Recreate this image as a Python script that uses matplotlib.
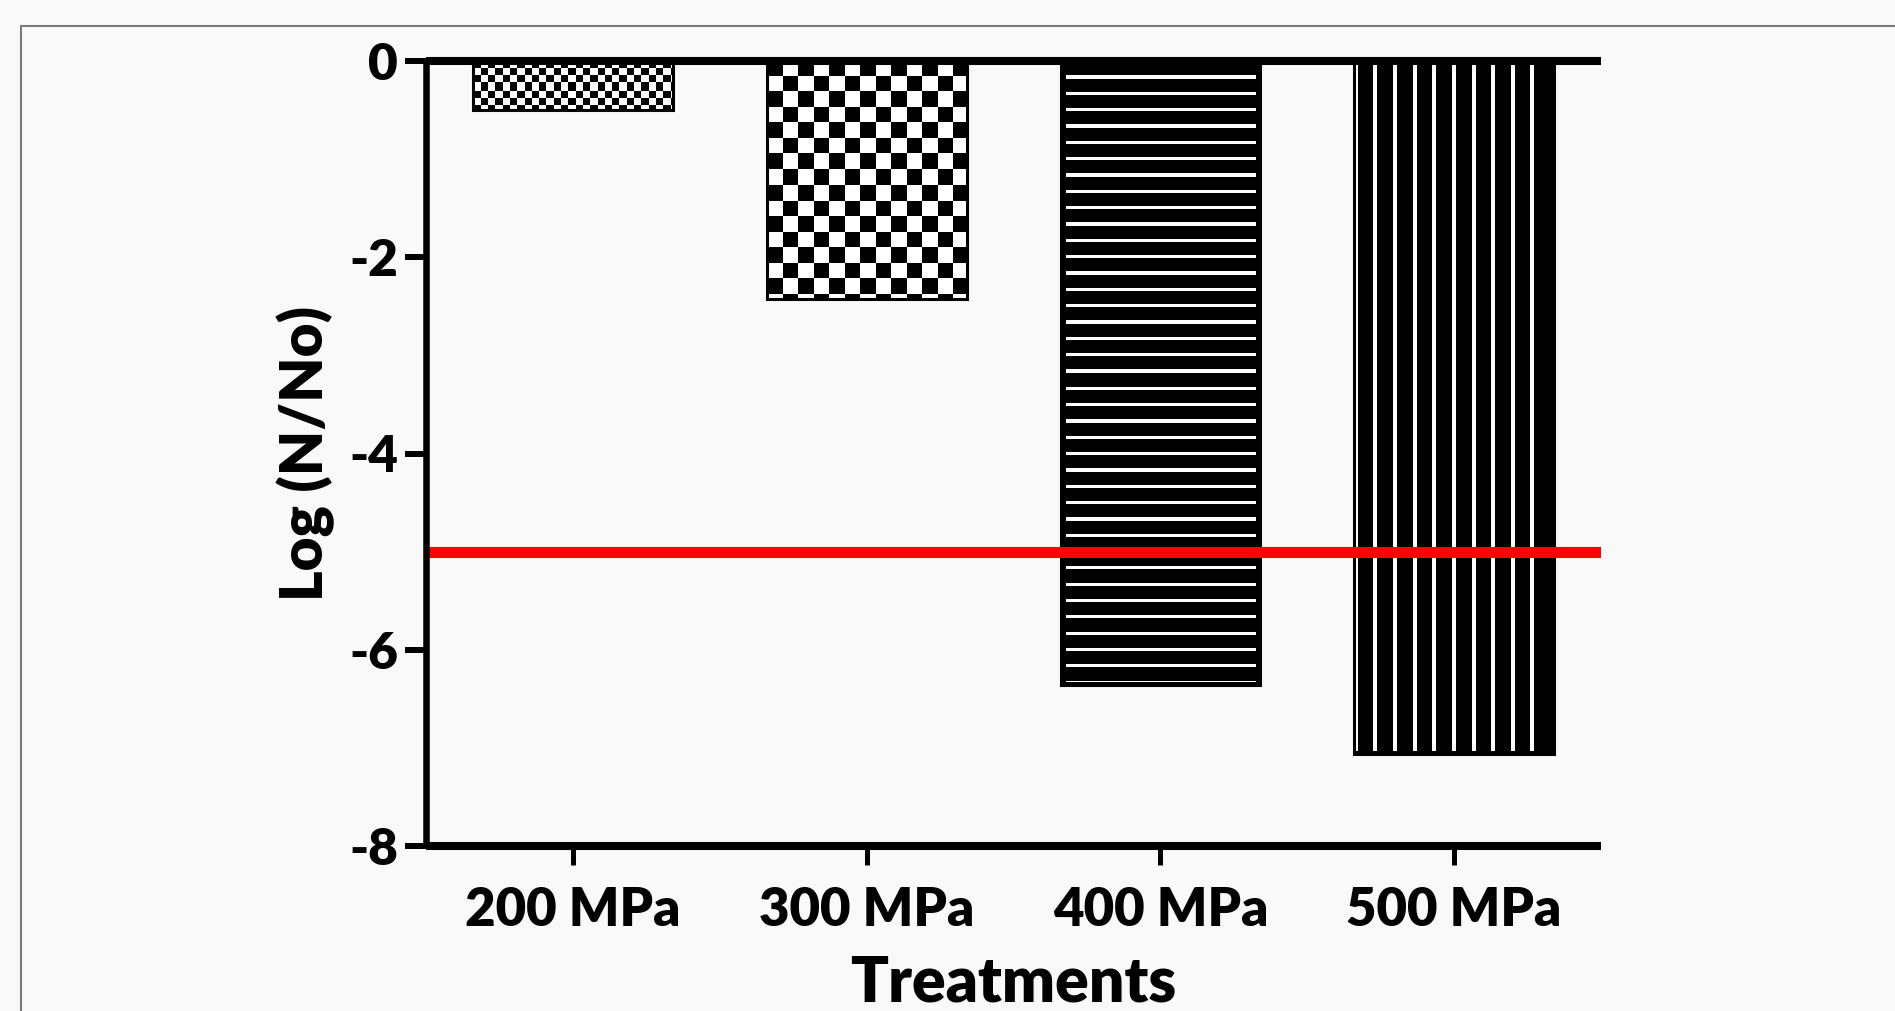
import numpy as np
import matplotlib
matplotlib.use("Agg")
import matplotlib.pyplot as plt
from matplotlib.colors import ListedColormap
from matplotlib.patches import Rectangle

# data
treatments = ["200 MPa", "300 MPa", "400 MPa", "500 MPa"]
log_reduction = [-0.50, -2.43, -6.36, -7.06]
target_line = -5.0
yticks = [0, -2, -4, -6, -8]

plt.rcParams['font.family'] = ['Lato', 'DejaVu Sans']
plt.rcParams['font.weight'] = 'heavy'

bg = '#f9f9f9'
fig = plt.figure(figsize=(18.95, 10.11), dpi=100, facecolor=bg)

# thin page frame (cropped screenshot look)
fig.patches.append(Rectangle((21 / 1895, -0.1), 1.2, 1.1 - 26 / 1011,
                             transform=fig.transFigure, fill=False,
                             edgecolor='#7a7a7a', linewidth=1.5))

ax = fig.add_axes([426 / 1895, 1 - 846 / 1011, (1601 - 426) / 1895, (846 - 61) / 1011])
ax.set_facecolor(bg)
ax.set_xlim(-0.5, 3.5)
ax.set_ylim(-8, 0)

x = np.arange(len(treatments))
bars = ax.bar(x, log_reduction, width=0.68, facecolor='none', edgecolor='black',
              linewidth=2.2, zorder=3)

# fill patterns, built at pixel size and clipped to each bar
bw = ListedColormap(['black', 'white'])


def checker(h, w, s):
    yy, xx = np.mgrid[0:h, 0:w]
    return ((yy // s).astype(int) + (xx // s).astype(int)) % 2


def hstripes(h, w, off, per, lw):
    yy, xx = np.mgrid[0:h, 0:w]
    a = ((yy - off + lw / 2) % per) < lw
    a &= (xx >= 5) & (xx < w - 5) & (yy < h - 3)
    return a.astype(int)


def vstripes(h, w, off, per, lw):
    yy, xx = np.mgrid[0:h, 0:w]
    a = ((xx - off + lw / 2) % per) < lw
    a &= (xx < w - 12) & (yy < h - 3)
    return a.astype(int)


for i, b in enumerate(bars):
    bb = b.get_window_extent()
    w, h = int(round(bb.width)), int(round(bb.height))
    if i == 0:
        arr = checker(h, w, 7.3)
    elif i == 1:
        arr = checker(h, w, 15.5)
    elif i == 2:
        arr = hstripes(h, w, 16.5, 16.33, 3.2)
    else:
        arr = vstripes(h, w, 21, 19.6, 4)
    x0 = b.get_x()
    im = ax.imshow(arr, cmap=bw, vmin=0, vmax=1, interpolation='nearest', aspect='auto',
                   extent=(x0, x0 + b.get_width(), b.get_y() + b.get_height(), b.get_y()),
                   origin='upper', zorder=2)
    im.set_clip_path(b)

ax.set_xlim(-0.5, 3.5)
ax.set_ylim(-8, 0)

ax.axhline(target_line, color='#ff0000', linewidth=8, zorder=4)

ax.spines['right'].set_visible(False)
ax.spines['left'].set_linewidth(4.7)
ax.spines['bottom'].set_linewidth(5.8)
ax.spines['top'].set_linewidth(5.8)
for s in ['left', 'bottom', 'top']:
    ax.spines[s].set_zorder(5)
    ax.spines[s].set_capstyle('butt')

ax.set_yticks(yticks)
ax.set_yticklabels([str(t) for t in yticks])
ax.set_xticks(x)
ax.set_xticklabels(treatments)
ax.tick_params(axis='y', direction='out', length=15, width=4.3, pad=5, labelsize=37)
ax.tick_params(axis='x', direction='out', length=14, width=3.6, pad=15, labelsize=38,
               top=False)

ax.set_xlabel('Treatments', fontsize=45, fontweight='heavy', labelpad=14)
ax.set_ylabel('Log (N/No)', fontsize=42, fontweight='heavy', labelpad=10)

fig.savefig('out.png', dpi=100, facecolor=bg)
